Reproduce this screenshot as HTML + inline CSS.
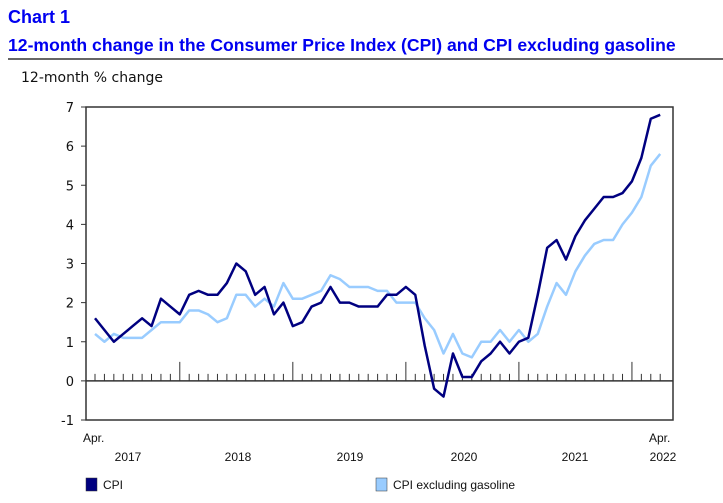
<!DOCTYPE html>
<html><head><meta charset="utf-8"><style>
body{margin:0;background:#fff;width:723px;height:498px;overflow:hidden;font-family:"Liberation Sans",sans-serif}
</style></head><body>
<svg width="723" height="498" xmlns="http://www.w3.org/2000/svg">
<text x="8" y="23" font-size="18" font-weight="bold" fill="#0000f0">Chart 1</text>
<text x="8" y="51" font-size="17.6" font-weight="bold" fill="#0000f0">12-month change in the Consumer Price Index (CPI) and CPI excluding gasoline</text>
<line x1="8" y1="59" x2="723" y2="59" stroke="#333" stroke-width="1.5"/>
<text x="21" y="82" font-size="14" fill="#111" font-family="DejaVu Sans, sans-serif">12-month % change</text>
<g id="axes"></g>
<g id="series"></g>
<text x="83" y="442" font-size="12" fill="#111">Apr.</text>
<text x="649" y="442" font-size="12" fill="#111">Apr.</text>
<g id="years"></g>
<rect x="86" y="478" width="11" height="13" fill="#000080" stroke="#333" stroke-width="0.5"/>
<text x="103" y="489" font-size="12" fill="#111">CPI</text>
<rect x="376" y="478" width="11" height="13" fill="#99ccff" stroke="#333" stroke-width="0.5"/>
<text x="393" y="489" font-size="12" fill="#111">CPI excluding gasoline</text>
</svg>
<script>
const yTicks=[-1,0,1,2,3,4,5,6,7];
const years=["2017","2018","2019","2020","2021","2022"];
const cpi=[1.6,1.3,1.0,1.2,1.4,1.6,1.4,2.1,1.9,
1.7,2.2,2.3,2.2,2.2,2.5,3.0,2.8,2.2,2.4,1.7,2.0,
1.4,1.5,1.9,2.0,2.4,2.0,2.0,1.9,1.9,1.9,2.2,2.2,
2.4,2.2,0.9,-0.2,-0.4,0.7,0.1,0.1,0.5,0.7,1.0,0.7,
1.0,1.1,2.2,3.4,3.6,3.1,3.7,4.1,4.4,4.7,4.7,4.8,
5.1,5.7,6.7,6.8];
const exGas=[1.2,1.0,1.2,1.1,1.1,1.1,1.3,1.5,1.5,
1.5,1.8,1.8,1.7,1.5,1.6,2.2,2.2,1.9,2.1,1.9,2.5,
2.1,2.1,2.2,2.3,2.7,2.6,2.4,2.4,2.4,2.3,2.3,2.0,
2.0,2.0,1.6,1.3,0.7,1.2,0.7,0.6,1.0,1.0,1.3,1.0,
1.3,1.0,1.2,1.9,2.5,2.2,2.8,3.2,3.5,3.6,3.6,4.0,
4.3,4.7,5.5,5.8];
const NS="http://www.w3.org/2000/svg";
const L=86,R=673,T=107,B=420;
const yMin=-1,yMax=7;
const y=v=>B-(v-yMin)/(yMax-yMin)*(B-T);
const x=i=>95+i*9.42;
function mk(tag,attrs,parent){const e=document.createElementNS(NS,tag);for(const k in attrs)e.setAttribute(k,attrs[k]);parent.appendChild(e);return e;}
const ax=document.getElementById('axes');
let fr=mk('rect',{x:L,y:T,width:R-L,height:B-T,fill:'none',stroke:'#333','stroke-width':1.5},ax);


yTicks.forEach(v=>{
 let t=mk('line',{x1:L-5,x2:L,y1:y(v),y2:y(v),stroke:'#333','stroke-width':1},ax);
 
 
 let tx=mk('text',{x:L-12,y:y(v)+5,'font-size':13,'text-anchor':'end',fill:'#111','font-family':'DejaVu Sans, sans-serif'},ax);
 tx.textContent=v;
 
 
});
let zl=mk('line',{x1:L,x2:R,y1:y(0),y2:y(0),stroke:'#333','stroke-width':1.5},ax);


for(let i=0;i<cpi.length;i++){
 const big=(i-9)%12===0&&i>=9;
 let t=mk('line',{x1:x(i),x2:x(i),y1:y(0),y2:y(0)-(big?19:7),stroke:'#333','stroke-width':1},ax);
 
 
}
const yr=document.getElementById('years');
const yrX=[128,238,350,464,575,663];
years.forEach((s,k)=>{
 let tx=mk('text',{x:yrX[k],y:461,'font-size':12,'text-anchor':'middle',fill:'#111'},yr);
 tx.textContent=s;
 
 
});
const sg=document.getElementById('series');
function line(data,color,name){
 const p=mk('polyline',{points:data.map((v,i)=>x(i)+','+y(v)).join(' '),fill:'none',stroke:color,'stroke-width':2.5,'stroke-linejoin':'round'},sg);
 
 
}
line(exGas,'#99ccff','line-cpi-ex-gasoline');
line(cpi,'#000080','line-cpi');
</script>
</body></html>
